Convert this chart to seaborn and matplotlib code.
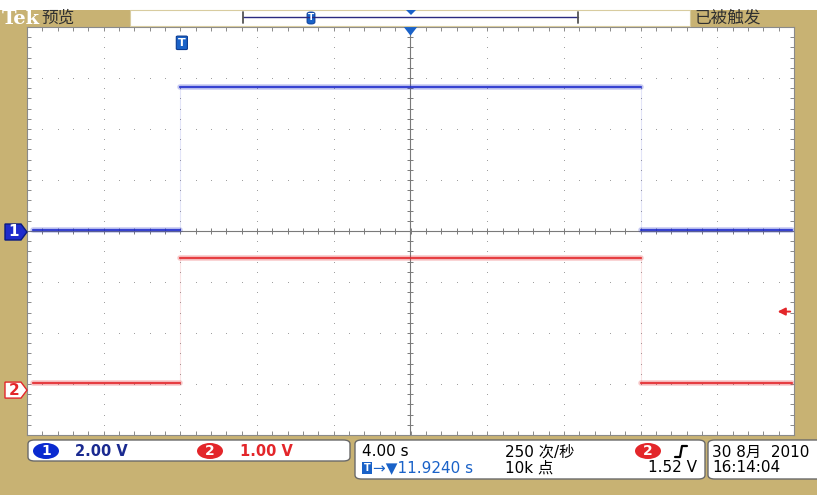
import numpy as np
import pandas as pd
import seaborn as sns
import matplotlib.pyplot as plt
from matplotlib.patches import FancyBboxPatch, Rectangle, Polygon, Ellipse

sns.set_style('white')
# 中文字体放在 DejaVu 之后做回退
plt.rcParams['font.family'] = ['DejaVu Sans', 'Noto Sans CJK SC']

# 数据（从截图读取）
t_edges = [-19.7, -12.0, 12.0, 19.9]     # 秒，触发点在屏幕中心
ch1_levels = [0.04, 5.65, 0.04]          # CH1 电平 V
ch2_levels = [0.12, 2.57, 0.12]          # CH2 电平 V
ch1_scale, ch2_scale = 2.00, 1.00        # V/div
ch1_offset, ch2_offset = 0.0, -3.1       # 通道基线位置 div
trig_level = 1.52                        # 触发电平 V
time_per_div = 4.00                      # s/div
trig_delay = 11.9240                     # s

OLIVE = '#c8b273'
BLUE = '#1f2ccc'
RED = '#e3262a'
W, H = 817, 495

rows = []
for ch, levels, scale, off in [('CH1', ch1_levels, ch1_scale, ch1_offset),
                               ('CH2', ch2_levels, ch2_scale, ch2_offset)]:
    for i, v in enumerate(levels):
        for t in (t_edges[i], t_edges[i + 1]):
            rows.append({'t': t, 'div': v / scale + off, 'ch': ch, 'seg': i})
df = pd.DataFrame(rows)

fig = plt.figure(figsize=(W / 100, H / 100), dpi=100, facecolor=OLIVE)


def fx(x):
    return x / W


def fy(y):
    return 1 - y / H


ax = fig.add_axes([fx(27), fy(435), 767 / W, 408 / H])
ax.set_facecolor('white')
ax.set_xlim(-5 * time_per_div, 5 * time_per_div)
ax.set_ylim(-4, 4)

# 刻度网格（点状）
minor_x = np.arange(-20, 20.01, time_per_div / 5)
minor_y = np.arange(-4, 4.01, 0.2)
for gx in np.arange(-16, 16.01, time_per_div):
    if abs(gx) > 1e-6:
        ax.plot(np.full_like(minor_y, gx), minor_y, ls='none', marker='s',
                ms=0.7, mew=0, color='#a0a0a0', zorder=1)
for gy in range(-3, 4):
    if gy != 0:
        ax.plot(minor_x, np.full_like(minor_x, gy), ls='none', marker='s',
                ms=0.7, mew=0, color='#a0a0a0', zorder=1)
# 中心十字线
ax.axhline(0, color='#7a7a7a', lw=0.8, zorder=1)
ax.axvline(0, color='#7a7a7a', lw=0.8, zorder=1)
ax.plot(minor_x, np.zeros_like(minor_x), ls='none', marker='|', ms=5,
        mew=0.7, color='#7a7a7a', zorder=1)
ax.plot(np.zeros_like(minor_y), minor_y, ls='none', marker='_', ms=5,
        mew=0.7, color='#7a7a7a', zorder=1)

ax.set_xticks(minor_x)
ax.set_yticks(minor_y)
ax.set_xticklabels([])
ax.set_yticklabels([])
ax.tick_params(direction='in', length=3, width=0.7, color='#8a8a8a',
               top=True, right=True, bottom=True, left=True)
for s in ax.spines.values():
    s.set_color('#8a8a8a')
    s.set_linewidth(0.8)

# 波形：噪声带 + 中心线
pal = {'CH1': BLUE, 'CH2': RED}
sns.lineplot(data=df, x='t', y='div', hue='ch', units='seg', estimator=None,
             palette=pal, lw=4, alpha=0.25, legend=False, ax=ax, sort=False)
sns.lineplot(data=df, x='t', y='div', hue='ch', units='seg', estimator=None,
             palette=pal, lw=1.6, alpha=0.85, legend=False, ax=ax, sort=False)
for te in t_edges[1:3]:
    ax.vlines(te, ch1_levels[0] / ch1_scale + ch1_offset,
              ch1_levels[1] / ch1_scale + ch1_offset, color=BLUE, lw=0.8, alpha=0.12)
    ax.vlines(te, ch2_levels[0] / ch2_scale + ch2_offset,
              ch2_levels[1] / ch2_scale + ch2_offset, color=RED, lw=0.8, alpha=0.12)
ax.set_xlabel('')
ax.set_ylabel('')

# 触发标记 T 和中心三角
tx = -trig_delay
ax.add_patch(FancyBboxPatch((tx - 0.28, 3.56), 0.56, 0.26,
                            boxstyle='round,pad=0.01,rounding_size=0.08',
                            fc='#1a62c8', ec='#0a3a90', lw=0.8, zorder=5,
                            mutation_aspect=0.2))
ax.text(tx, 3.69, 'T', color='white', fontsize=8, fontweight='bold',
        ha='center', va='center', zorder=6)
ax.add_patch(Polygon([(-0.35, 4.0), (0.35, 4.0), (0, 3.83)], closed=True,
                     fc='#1a62c8', ec='none', zorder=5, clip_on=False))
# 触发电平箭头
ty = trig_level / ch2_scale + ch2_offset
ax.annotate('', xy=(19.0, ty), xytext=(19.95, ty),
            arrowprops=dict(arrowstyle='-|>', color=RED, lw=1.4,
                            mutation_scale=11), zorder=6)

# 通道标签
def tag(y, num, fc, ec, tc):
    pts = [(5, y - 8), (21, y - 8), (27, y), (21, y + 8), (5, y + 8)]
    fig.patches.append(Polygon([(fx(a), fy(b)) for a, b in pts], closed=True,
                               transform=fig.transFigure, fc=fc, ec=ec, lw=1))
    fig.text(fx(14), fy(y), num, color=tc, fontsize=11, fontweight='bold',
             ha='center', va='center')


y1 = 232 - ch1_offset * 51
y2 = 232 - ch2_offset * 51
tag(y1, '1', BLUE, '#0a1a80', 'white')
tag(y2, '2', 'white', RED, RED)

# 顶部栏
fig.patches.append(Rectangle((0, fy(10)), 1, 10 / H, transform=fig.transFigure,
                             fc='white', ec='none'))
fig.patches.append(Rectangle((fx(130), fy(26)), 560 / W, 16 / H,
                             transform=fig.transFigure, fc='white',
                             ec='#d8cca0', lw=0.8))
fig.text(fx(2), fy(18.5), 'Tek', color='white', fontsize=14, fontweight='bold',
         family='DejaVu Serif', va='center')
fig.text(fx(41), fy(18.5), '预览', color='#303030', fontsize=12,
         family=['Noto Sans CJK SC'], va='center')
fig.text(fx(694), fy(18.5), '已被触发', color='#303030', fontsize=12,
         family=['Noto Sans CJK SC'], va='center')
fig.lines.append(plt.Line2D([fx(243), fx(578)], [fy(17), fy(17)],
                            transform=fig.transFigure, color='#2a2a80', lw=1))
fig.lines.append(plt.Line2D([fx(243), fx(243)], [fy(12), fy(23)],
                            transform=fig.transFigure, color='#555555', lw=1.3))
fig.lines.append(plt.Line2D([fx(578), fx(578)], [fy(12), fy(23)],
                            transform=fig.transFigure, color='#555555', lw=1.3))
fig.patches.append(FancyBboxPatch((fx(307), fy(24)), 8 / W, 12 / H,
                                  boxstyle='round,pad=0,rounding_size=0.004',
                                  transform=fig.transFigure, fc='#1a62c8',
                                  ec='#0a3a90', lw=0.6))
fig.text(fx(311), fy(18), 'T', color='white', fontsize=6.5, fontweight='bold',
         ha='center', va='center')
fig.patches.append(Polygon([(fx(406), fy(10)), (fx(416), fy(10)), (fx(411), fy(15))],
                           closed=True, transform=fig.transFigure, fc='#1a62c8', ec='none'))

# 底部信息框
def box(x0, y0, x1, y1):
    fig.patches.append(FancyBboxPatch((fx(x0), fy(y1)), (x1 - x0) / W, (y1 - y0) / H,
                                      boxstyle='round,pad=0,rounding_size=0.008',
                                      transform=fig.transFigure, fc='white',
                                      ec='#6a6a6a', lw=1))


def badge(xc, yc, num, fc):
    fig.patches.append(Ellipse((fx(xc), fy(yc)), 26 / W, 16 / H,
                               transform=fig.transFigure, fc=fc, ec='none'))
    fig.text(fx(xc), fy(yc), num, color='white', fontsize=10, fontweight='bold',
             ha='center', va='center')


box(28, 440, 350, 461)
box(355, 440, 705, 479)
box(708, 440, 830, 479)

badge(46, 451, '1', '#0a2ad0')
fig.text(fx(75), fy(451), f'{ch1_scale:.2f} V', color='#1a2a90', fontsize=10.5,
         fontweight='bold', va='center')
badge(210, 451, '2', RED)
fig.text(fx(240), fy(451), f'{ch2_scale:.2f} V', color=RED, fontsize=10.5,
         fontweight='bold', va='center')

fig.text(fx(362), fy(452), f'{time_per_div:.2f} s', color='black', fontsize=11,
         va='center')
fig.patches.append(Rectangle((fx(362), fy(474)), 10 / W, 12 / H,
                             transform=fig.transFigure, fc='#1a62c8', ec='none'))
fig.text(fx(367), fy(468), 'T', color='white', fontsize=7, fontweight='bold',
         ha='center', va='center')
fig.text(fx(373), fy(468), f'→▼{trig_delay:.4f} s', color='#1a62c8', fontsize=11,
         va='center')
fig.text(fx(505), fy(452), '250 次/秒', color='black', fontsize=11, va='center')
fig.text(fx(505), fy(468), '10k 点', color='black', fontsize=11, va='center')
badge(648, 451, '2', RED)
fig.lines.append(plt.Line2D([fx(675), fx(680), fx(682), fx(687)],
                            [fy(457), fy(457), fy(446), fy(446)],
                            transform=fig.transFigure, color='black', lw=1.6))
fig.text(fx(697), fy(468), f'{trig_level:.2f} V', color='black', fontsize=11,
         ha='right', va='center')
fig.text(fx(712), fy(452), '30 8月  2010', color='black', fontsize=11, va='center')
fig.text(fx(712), fy(468), '16:14:04', color='black', fontsize=11, va='center')

fig.savefig('out.png', dpi=100, facecolor=OLIVE)
